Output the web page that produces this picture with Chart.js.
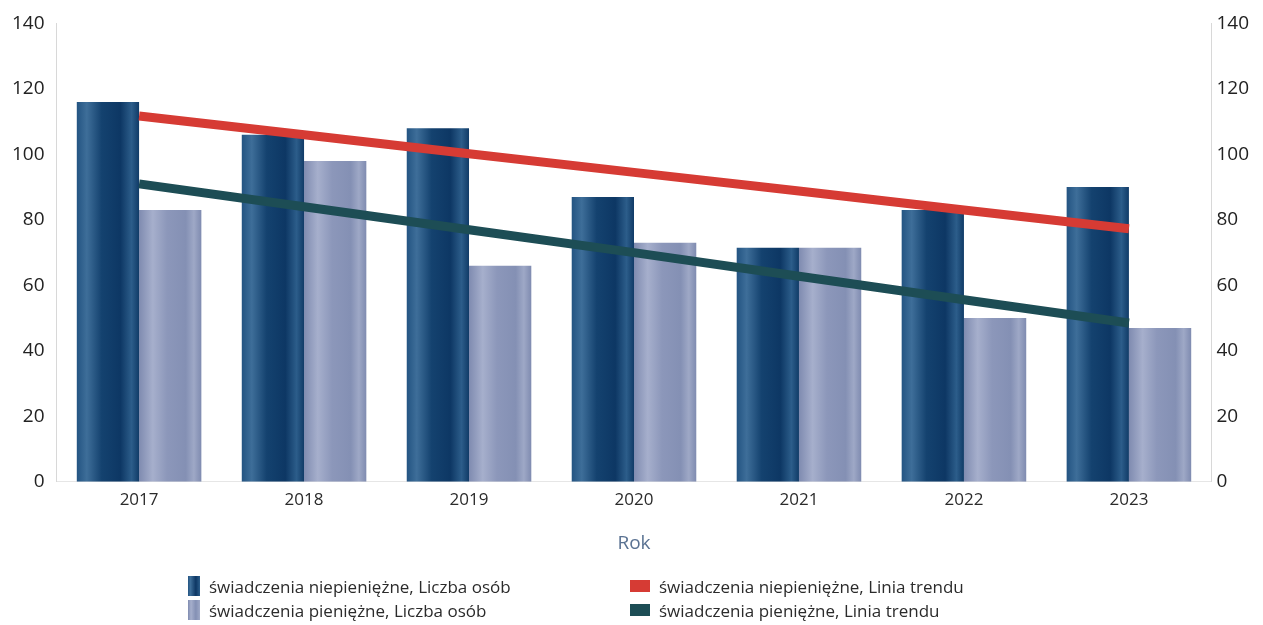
<!DOCTYPE html>
<html>
<head>
<meta charset="utf-8">
<script src="https://cdn.jsdelivr.net/npm/chart.js@4.4.1/dist/chart.umd.min.js"></script>
<style>
  html, body { margin: 0; padding: 0; background: #fff; }
  #wrap { position: relative; width: 1263px; height: 625px; }
  #legend { position: absolute; left: 188px; top: 575px; font-family: "Open Sans", sans-serif; font-size: 17px; color: #2b2b2b;
            display: grid; grid-template-columns: 442px 400px; row-gap: 2px; }
  .item { display: flex; align-items: center; height: 22px; }
  .sw { margin-right: 9px; }
</style>
</head>
<body>
<div id="wrap">
  <canvas id="chart" width="1263" height="625"></canvas>
  <div id="legend"></div>
</div>
<script>
const years = ['2017', '2018', '2019', '2020', '2021', '2022', '2023'];
const niepieniezne = [116, 106, 108, 87, 71.5, 83, 90];
const pieniezne = [83, 98, 66, 73, 71.5, 50, 47];
const trendNiepieniezne = [111.7, 106, 100.2, 94.5, 88.8, 83, 77.3];
const trendPieniezne = [91, 84, 77, 70, 62.8, 55.6, 48.5];
const yTicks = [0, 20, 40, 60, 80, 100, 120, 140];

const seriesNames = [
    'świadczenia niepieniężne, Liczba osób',
    'świadczenia pieniężne, Liczba osób',
    'świadczenia niepieniężne, Linia trendu',
    'świadczenia pieniężne, Linia trendu'
];

const groupPct = 0.755;

// vertical "cylinder" shading for each bar
const darkStops = [[0, '#235482'], [0.16, '#3e6e99'], [0.4, '#14426f'], [0.7, '#0d3764'], [0.88, '#2c5d8a'], [1, '#103b67']];
const lightStops = [[0, '#7f8bb0'], [0.22, '#a6afcc'], [0.45, '#8c97ba'], [0.75, '#8490b4'], [0.88, '#9ea8c6'], [1, '#7f8bb0']];

function barGradient(context, stops, side) {
    const chart = context.chart;
    const xs = chart.scales.x;
    if (!xs || !chart.chartArea) return stops[2][1];
    const step = xs.width / years.length;
    const w = step * groupPct / 2;
    const cx = xs.getPixelForValue(context.dataIndex);
    const x0 = side < 0 ? cx - w : cx;
    const g = chart.ctx.createLinearGradient(x0, 0, x0 + w, 0);
    stops.forEach(s => g.addColorStop(s[0], s[1]));
    return g;
}

const ctx = document.getElementById('chart').getContext('2d');
const chart = new Chart(ctx, {
    data: {
        labels: years,
        datasets: [
            {
                type: 'line', label: seriesNames[2], data: trendNiepieniezne,
                borderColor: '#d63b34', borderWidth: 9, pointRadius: 0, borderCapStyle: 'butt',
                fill: false, yAxisID: 'y', order: 0
            },
            {
                type: 'line', label: seriesNames[3], data: trendPieniezne,
                borderColor: '#1d4d55', borderWidth: 9, pointRadius: 0, borderCapStyle: 'butt',
                fill: false, yAxisID: 'y', order: 0
            },
            {
                type: 'bar', label: seriesNames[0], data: niepieniezne,
                backgroundColor: c => barGradient(c, darkStops, -1), yAxisID: 'y', order: 1
            },
            {
                type: 'bar', label: seriesNames[1], data: pieniezne,
                backgroundColor: c => barGradient(c, lightStops, 1), yAxisID: 'y', order: 1
            }
        ]
    },
    options: {
        responsive: false,
        animation: false,
        layout: { padding: { top: 14, left: 0, right: 9, bottom: 66 } },
        datasets: { bar: { categoryPercentage: groupPct, barPercentage: 1 } },
        plugins: { legend: { display: false }, tooltip: { enabled: false } },
        scales: {
            x: {
                grid: { display: false, drawTicks: false },
                border: { display: true, color: '#e6e6e6' },
                ticks: { color: '#2b2b2b', font: { family: 'Open Sans', size: 17 }, padding: 8 },
                title: { display: true, text: 'Rok', color: '#5a7292', font: { family: 'Open Sans', size: 19 }, padding: { top: 14 } }
            },
            y: {
                position: 'left', min: 0, max: 140,
                afterBuildTicks: axis => { axis.ticks = yTicks.map(v => ({ value: v })); },
                grid: { display: false, drawTicks: false },
                border: { display: true, color: '#d8d8d8', dash: [2, 3] },
                ticks: { color: '#222', font: { family: 'Open Sans', size: 19 }, padding: 12 }
            },
            y1: {
                position: 'right', min: 0, max: 140,
                afterBuildTicks: axis => { axis.ticks = yTicks.map(v => ({ value: v })); },
                grid: { display: false, drawTicks: false },
                border: { display: true, color: '#d8d8d8', dash: [2, 3] },
                ticks: { color: '#222', font: { family: 'Open Sans', size: 19 }, padding: 5 }
            }
        }
    }
});
chart.update();

// legend laid out as two columns like the original
const legendEl = document.getElementById('legend');
const swatches = [
    'width:12px;height:20px;background:linear-gradient(90deg,#235482,#3e6e99 20%,#0d3764 65%,#2c5d8a)',
    'width:20px;height:12px;background:#d63b34',
    'width:12px;height:20px;background:linear-gradient(90deg,#7f8bb0,#a6afcc 25%,#8490b4 65%,#9ea8c6)',
    'width:20px;height:12px;background:#1d4d55'
];
const order = [0, 2, 1, 3];
order.forEach((s, i) => {
    const item = document.createElement('div');
    item.className = 'item';
    item.innerHTML = '<span class="sw" style="' + swatches[i] + '"></span><span>' + seriesNames[s] + '</span>';
    legendEl.appendChild(item);
});
</script>
</body>
</html>
